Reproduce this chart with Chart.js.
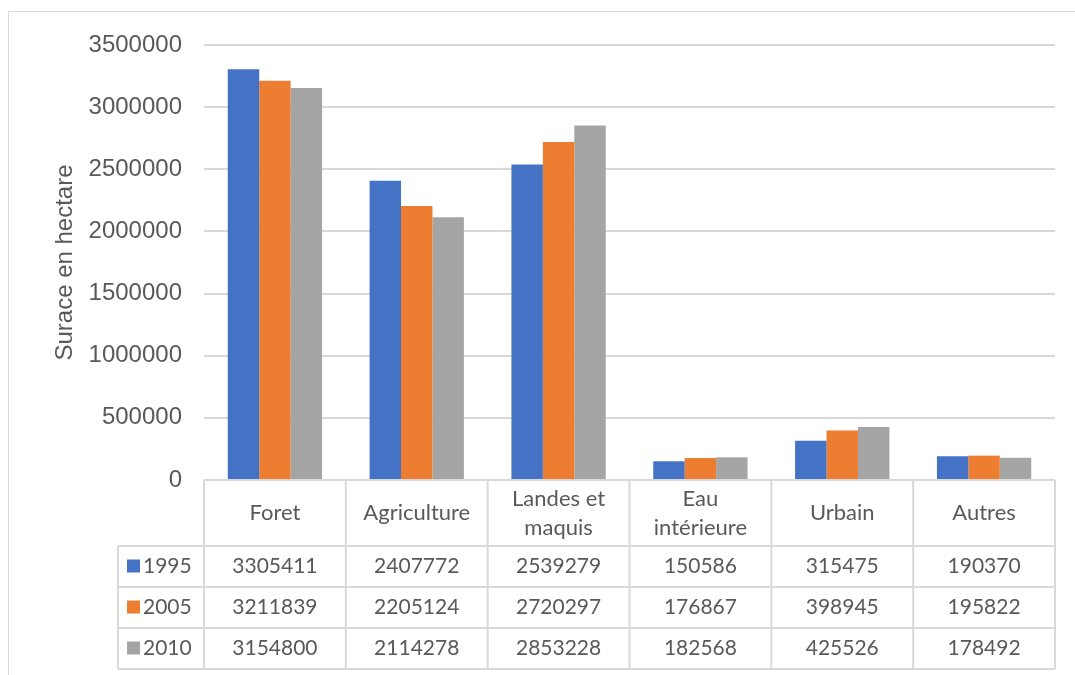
<!DOCTYPE html>
<html>
<head>
<meta charset="utf-8">
<script src="https://cdn.jsdelivr.net/npm/chart.js@4/dist/chart.umd.min.js"></script>
<style>
html,body{margin:0;padding:0;background:#fff;}
#wrap{width:1075px;height:675px;position:relative;}
</style>
</head>
<body>
<div id="wrap"><canvas id="c"></canvas></div>
<script>
// ---- Data ----
const categories = ["Foret", "Agriculture", ["Landes et", "maquis"], ["Eau", "intérieure"], "Urbain", "Autres"];
const seriesNames = ["1995", "2005", "2010"];
const values1995 = [3305411, 2407772, 2539279, 150586, 315475, 190370];
const values2005 = [3211839, 2205124, 2720297, 176867, 398945, 195822];
const values2010 = [3154800, 2114278, 2853228, 182568, 425526, 178492];
const yTickValues = [0, 500000, 1000000, 1500000, 2000000, 2500000, 3000000, 3500000];
const yTitle = "Surace en hectare";

// ---- Styles ----
const seriesColors = ["#4472C4", "#ED7D31", "#A5A5A5"];
const seriesValues = [values1995, values2005, values2010];
const textColor = "#595959";
const lineColor = "#D9D9D9";
const tableFont = "21px Lato";
const headerFont = "22px Lato";

const framePlugin = {
  id: "frame",
  beforeDraw(chart) {
    const ctx = chart.ctx;
    ctx.save();
    ctx.fillStyle = "#ffffff";
    ctx.fillRect(0, 0, chart.width, chart.height);
    ctx.strokeStyle = lineColor;
    ctx.lineWidth = 1;
    ctx.strokeRect(8.5, 11.5, 1200, 800);
    ctx.restore();
  }
};

const tablePlugin = {
  id: "dataTable",
  afterDraw(chart) {
    const ctx = chart.ctx;
    const xs = chart.scales.x;
    const area = chart.chartArea;
    const n = chart.data.labels.length;
    const w = (area.right - area.left) / n;
    const top = area.bottom;
    const headH = 66, rowH = 41, labelLeft = 118;
    const bottom = top + headH + rowH * chart.data.datasets.length;
    const line = (x1, y1, x2, y2) => { ctx.beginPath(); ctx.moveTo(x1, y1); ctx.lineTo(x2, y2); ctx.stroke(); };
    ctx.save();
    ctx.strokeStyle = lineColor;
    ctx.lineWidth = 2;
    line(area.left, top, area.right, top);
    for (let r = 0; r <= chart.data.datasets.length; r++) {
      line(labelLeft, top + headH + r * rowH, area.right, top + headH + r * rowH);
    }
    for (let i = 0; i <= n; i++) {
      const x0 = (i < n ? xs.getPixelForValue(i) - w / 2 : xs.getPixelForValue(n - 1) + w / 2);
      line(x0, top, x0, bottom);
    }
    line(labelLeft, top + headH, labelLeft, bottom);

    ctx.fillStyle = textColor;
    ctx.font = headerFont;
    ctx.textAlign = "center";
    ctx.textBaseline = "middle";
    chart.data.labels.forEach((lab, i) => {
      const cx = xs.getPixelForValue(i);
      const lines = Array.isArray(lab) ? lab : [lab];
      const lh = 29;
      const y0 = top + headH / 2 - (lines.length - 1) * lh / 2;
      lines.forEach((t, k) => ctx.fillText(t, cx, y0 + k * lh));
    });
    ctx.font = tableFont;
    chart.data.datasets.forEach((ds, r) => {
      const cy = top + headH + r * rowH + rowH / 2;
      ds.data.forEach((v, i) => {
        ctx.textAlign = "center";
        ctx.fillText(String(v), xs.getPixelForValue(i), cy);
      });
      ctx.fillStyle = ds.backgroundColor;
      ctx.fillRect(127, cy - 7, 13, 13);
      ctx.fillStyle = textColor;
      ctx.textAlign = "left";
      ctx.fillText(ds.label, 143, cy);
    });
    ctx.restore();
  }
};

new Chart(document.getElementById("c"), {
  type: "bar",
  data: {
    labels: categories,
    datasets: seriesNames.map((name, i) => ({
      label: name,
      data: seriesValues[i],
      backgroundColor: seriesColors[i],
      borderWidth: 0,
      categoryPercentage: 0.665,
      barPercentage: 1.0
    }))
  },
  options: {
    responsive: true,
    maintainAspectRatio: false,
    animation: false,
    devicePixelRatio: 1,
    layout: { padding: { top: 45, right: 20, bottom: 195, left: 0 } },
    plugins: { legend: { display: false }, tooltip: { enabled: false } },
    scales: {
      x: { display: false, grid: { display: false } },
      y: {
        min: 0,
        max: 3500000,
        afterBuildTicks(scale) { scale.ticks = yTickValues.map(v => ({ value: v })); },
        afterFit(scale) { scale.width = 204; scale.paddingTop = 0; scale.paddingBottom = 0; },
        border: { display: false },
        grid: { color: lineColor, lineWidth: 2, drawTicks: false },
        ticks: {
          padding: 22,
          color: textColor,
          font: { family: "Liberation Sans", size: 24 },
          callback: v => String(v)
        },
        title: {
          display: true,
          text: yTitle,
          color: textColor,
          font: { family: "Liberation Sans", size: 24 },
          padding: { top: 51, bottom: 0 }
        }
      }
    }
  },
  plugins: [framePlugin, tablePlugin]
});
</script>
</body>
</html>
